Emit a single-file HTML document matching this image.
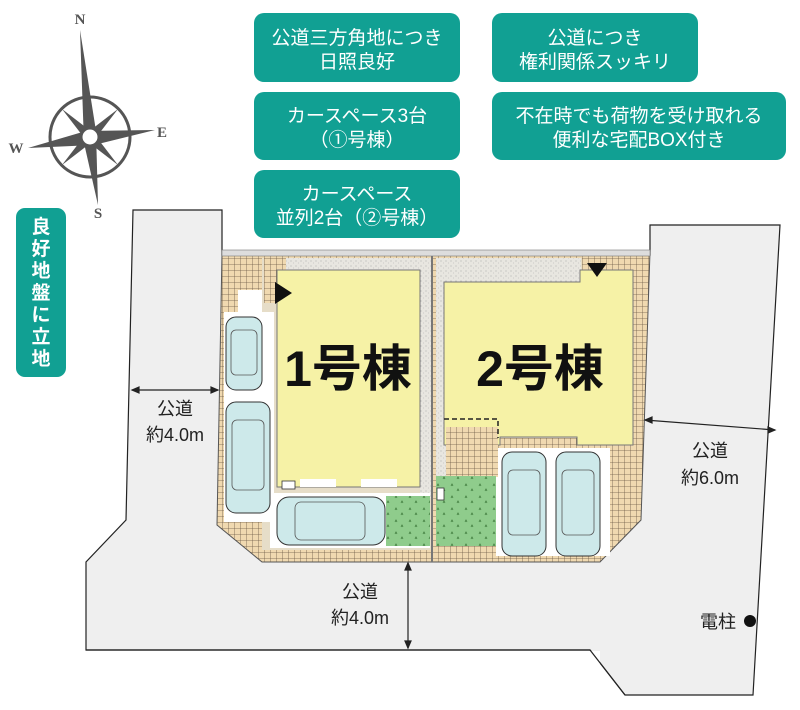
<!DOCTYPE html>
<html><head><meta charset="utf-8"><style>
html,body{margin:0;padding:0;background:#fff;}
svg{display:block}
.t{font-family:"Liberation Sans","Noto Sans CJK JP",sans-serif;}
</style></head><body>
<svg width="800" height="710" viewBox="0 0 800 710" xmlns="http://www.w3.org/2000/svg">
<defs>
<pattern id="tile" width="6" height="6" patternUnits="userSpaceOnUse">
<rect width="6" height="6" fill="#f0d9b0"/>
<path d="M0 0H6M0 0V6" stroke="#6b5a45" stroke-width="0.8"/>
</pattern>
<pattern id="grass" width="14" height="12" patternUnits="userSpaceOnUse">
<rect width="14" height="12" fill="#8fcc8c"/>
<path d="M3 6l1-2 1 2M9 11l1-2 1 2" stroke="#3e7a3c" stroke-width="0.8" fill="none"/>
</pattern>
<pattern id="grav" width="5" height="5" patternUnits="userSpaceOnUse">
<rect width="5" height="5" fill="#e8e6e0"/>
<circle cx="1" cy="1" r="0.5" fill="#999"/><circle cx="3.5" cy="3" r="0.4" fill="#aaa"/>
</pattern>
</defs>

<!-- roads -->
<path d="M133 210 L222 210 L222 255 L650 255 L650 225 L780 225 L753 695 L625 695 L590 650 L86 650 L86 562 L126 520 Z" fill="#efefef" stroke="#222" stroke-width="1.2"/>
<rect x="80" y="651" width="520" height="60" fill="#fff"/>
<path d="M86 650 L590 650 L625 695" fill="none" stroke="#222" stroke-width="1.2"/>

<!-- plot -->
<path d="M222 252 L650 252 L641 520 L600 562 L262 562 L217 525 Z" fill="url(#tile)" stroke="#555" stroke-width="1"/>
<rect x="222" y="250" width="428" height="6" fill="#ddd" stroke="#777" stroke-width="0.6"/>
<!-- inner areas -->
<rect x="262" y="258" width="170" height="292" fill="#e6ddc8"/>
<rect x="436" y="258" width="196" height="180" fill="#e6ddc8"/>
<rect x="285" y="258" width="145" height="20" fill="url(#grav)"/>
<rect x="420" y="258" width="12" height="240" fill="url(#grav)"/>
<rect x="436" y="258" width="10" height="240" fill="url(#grav)"/>
<rect x="446" y="258" width="135" height="24" fill="url(#grav)"/>
<rect x="582" y="258" width="50" height="22" fill="url(#tile)"/>
<rect x="264" y="258" width="22" height="45" fill="url(#tile)"/>
<path d="M236 258 L262 258 L262 300 L250 300 L250 290 L236 290Z" fill="url(#tile)"/>
<rect x="238" y="290" width="24" height="22" fill="#fff"/>
<rect x="224" y="312" width="50" height="210" fill="#fff"/>
<rect x="270" y="493" width="160" height="55" fill="#fff"/>
<rect x="496" y="448" width="114" height="108" fill="#fff"/>
<line x1="432" y1="256" x2="432" y2="562" stroke="#777" stroke-width="2"/>
<!-- houses -->
<rect x="277" y="270" width="143" height="217" fill="#f6f2a6" stroke="#777" stroke-width="1"/>
<path d="M444 282 L580 282 L580 270 L633 270 L633 445 L577 445 L577 437 L500 437 L500 445 L444 445 Z" fill="#f6f2a6" stroke="#777" stroke-width="1"/>
<rect x="446" y="427" width="52" height="50" fill="url(#tile)"/>
<path d="M444 419 H498 V438" fill="none" stroke="#222" stroke-width="1.5" stroke-dasharray="5,3"/>
<polygon points="275,282 275,304 292,293" fill="#111"/>
<polygon points="587,263 607,263 597,277" fill="#111"/>
<!-- white bits -->
<rect x="300" y="479" width="36" height="8" fill="#fff"/>
<rect x="361" y="479" width="36" height="8" fill="#fff"/>
<rect x="282" y="481" width="13" height="8" fill="#fff" stroke="#333" stroke-width="0.8"/>
<!-- lawns -->
<rect x="386" y="496" width="44" height="50" fill="url(#grass)"/>
<rect x="436" y="476" width="60" height="70" fill="url(#grass)"/>
<rect x="437" y="488" width="7" height="12" fill="#fff" stroke="#333" stroke-width="0.8"/>
<!-- cars -->
<g fill="#cde9ea" stroke="#333" stroke-width="1">
<rect x="226" y="317" width="36" height="73" rx="10"/>
<rect x="226" y="402" width="44" height="111" rx="10"/>
<rect x="277" y="497" width="108" height="48" rx="12"/>
<rect x="502" y="452" width="44" height="104" rx="10"/>
<rect x="556" y="452" width="44" height="104" rx="10"/>
</g>
<g fill="none" stroke="#555" stroke-width="0.8">
<rect x="231" y="330" width="26" height="45" rx="5"/>
<rect x="232" y="420" width="32" height="70" rx="5"/>
<rect x="295" y="502" width="70" height="38" rx="6"/>
<rect x="508" y="470" width="32" height="65" rx="5"/>
<rect x="562" y="470" width="32" height="65" rx="5"/>
</g>
<!-- building labels -->
<text x="348" y="386" class="t" font-size="50" text-anchor="middle" fill="#111" font-weight="bold">1号棟</text>
<text x="540" y="386" class="t" font-size="50" text-anchor="middle" fill="#111" font-weight="bold">2号棟</text>

<!-- dimension arrows -->
<g stroke="#222" stroke-width="1.2" fill="#222">
<line x1="132" y1="390" x2="218" y2="390"/>
<polygon points="132,390 139,387 139,393"/><polygon points="218,390 211,387 211,393"/>
<line x1="645" y1="420" x2="775" y2="430"/>
<polygon points="645,420 652,417 652,423"/><polygon points="775,430 768,427 768,433"/>
<line x1="408" y1="563" x2="408" y2="648"/>
<polygon points="408,563 405,570 411,570"/><polygon points="408,648 405,641 411,641"/>
</g>
<g class="t" font-size="18" fill="#222" text-anchor="middle">
<text x="175" y="415">公道</text><text x="175" y="441">約4.0m</text>
<text x="710" y="457">公道</text><text x="710" y="484">約6.0m</text>
<text x="360" y="598">公道</text><text x="360" y="624">約4.0m</text>
<text x="718" y="628">電柱</text>
</g>
<circle cx="750" cy="621" r="6" fill="#111"/>

<!-- compass -->
<g transform="translate(90,137)">
<circle r="40" fill="none" stroke="#555" stroke-width="3"/>
<g fill="#555">
<polygon points="-10,-107 6,-6 -6,6" />
<polygon points="8,68 -6,6 6,-6"/>
<polygon points="-62,11 -4,-6 4,8"/>
<polygon points="65,-7 4,8 -4,-6"/>
<polygon points="-28,-28 -2,-8 -8,-2"/><polygon points="28,-28 8,-2 2,-8"/>
<polygon points="-28,28 -8,2 -2,8"/><polygon points="28,28 2,8 8,2"/>
</g>
<circle r="9" fill="#fff" stroke="#555" stroke-width="3"/>
</g>
<g font-family="Liberation Serif" font-size="15" fill="#555" font-weight="bold" text-anchor="middle">
<text x="80" y="24">N</text><text x="162" y="137">E</text><text x="16" y="153">W</text><text x="98" y="218">S</text>
</g>

<!-- teal boxes -->
<g fill="#11a093">
<rect x="254" y="13" width="206" height="69" rx="10"/>
<rect x="254" y="92" width="206" height="68" rx="10"/>
<rect x="254" y="170" width="206" height="68" rx="10"/>
<rect x="492" y="13" width="206" height="69" rx="10"/>
<rect x="492" y="92" width="294" height="68" rx="10"/>
<rect x="16" y="208" width="50" height="169" rx="9"/>
</g>
<g class="t" font-size="19" fill="#fff" text-anchor="middle">
<text x="357" y="44">公道三方角地につき</text><text x="357" y="68">日照良好</text>
<text x="357" y="122">カースペース3台</text><text x="357" y="146">（①号棟）</text>
<text x="357" y="200">カースペース</text><text x="357" y="224">並列2台（②号棟）</text>
<text x="595" y="44">公道につき</text><text x="595" y="68">権利関係スッキリ</text>
<text x="639" y="122">不在時でも荷物を受け取れる</text><text x="639" y="146">便利な宅配BOX付き</text>
</g>
<g class="t" font-size="19" fill="#fff" text-anchor="middle" font-weight="bold">
<text x="41" y="233">良</text><text x="41" y="255">好</text><text x="41" y="277">地</text><text x="41" y="299">盤</text><text x="41" y="321">に</text><text x="41" y="343">立</text><text x="41" y="365">地</text>
</g>
</svg>
</body></html>
